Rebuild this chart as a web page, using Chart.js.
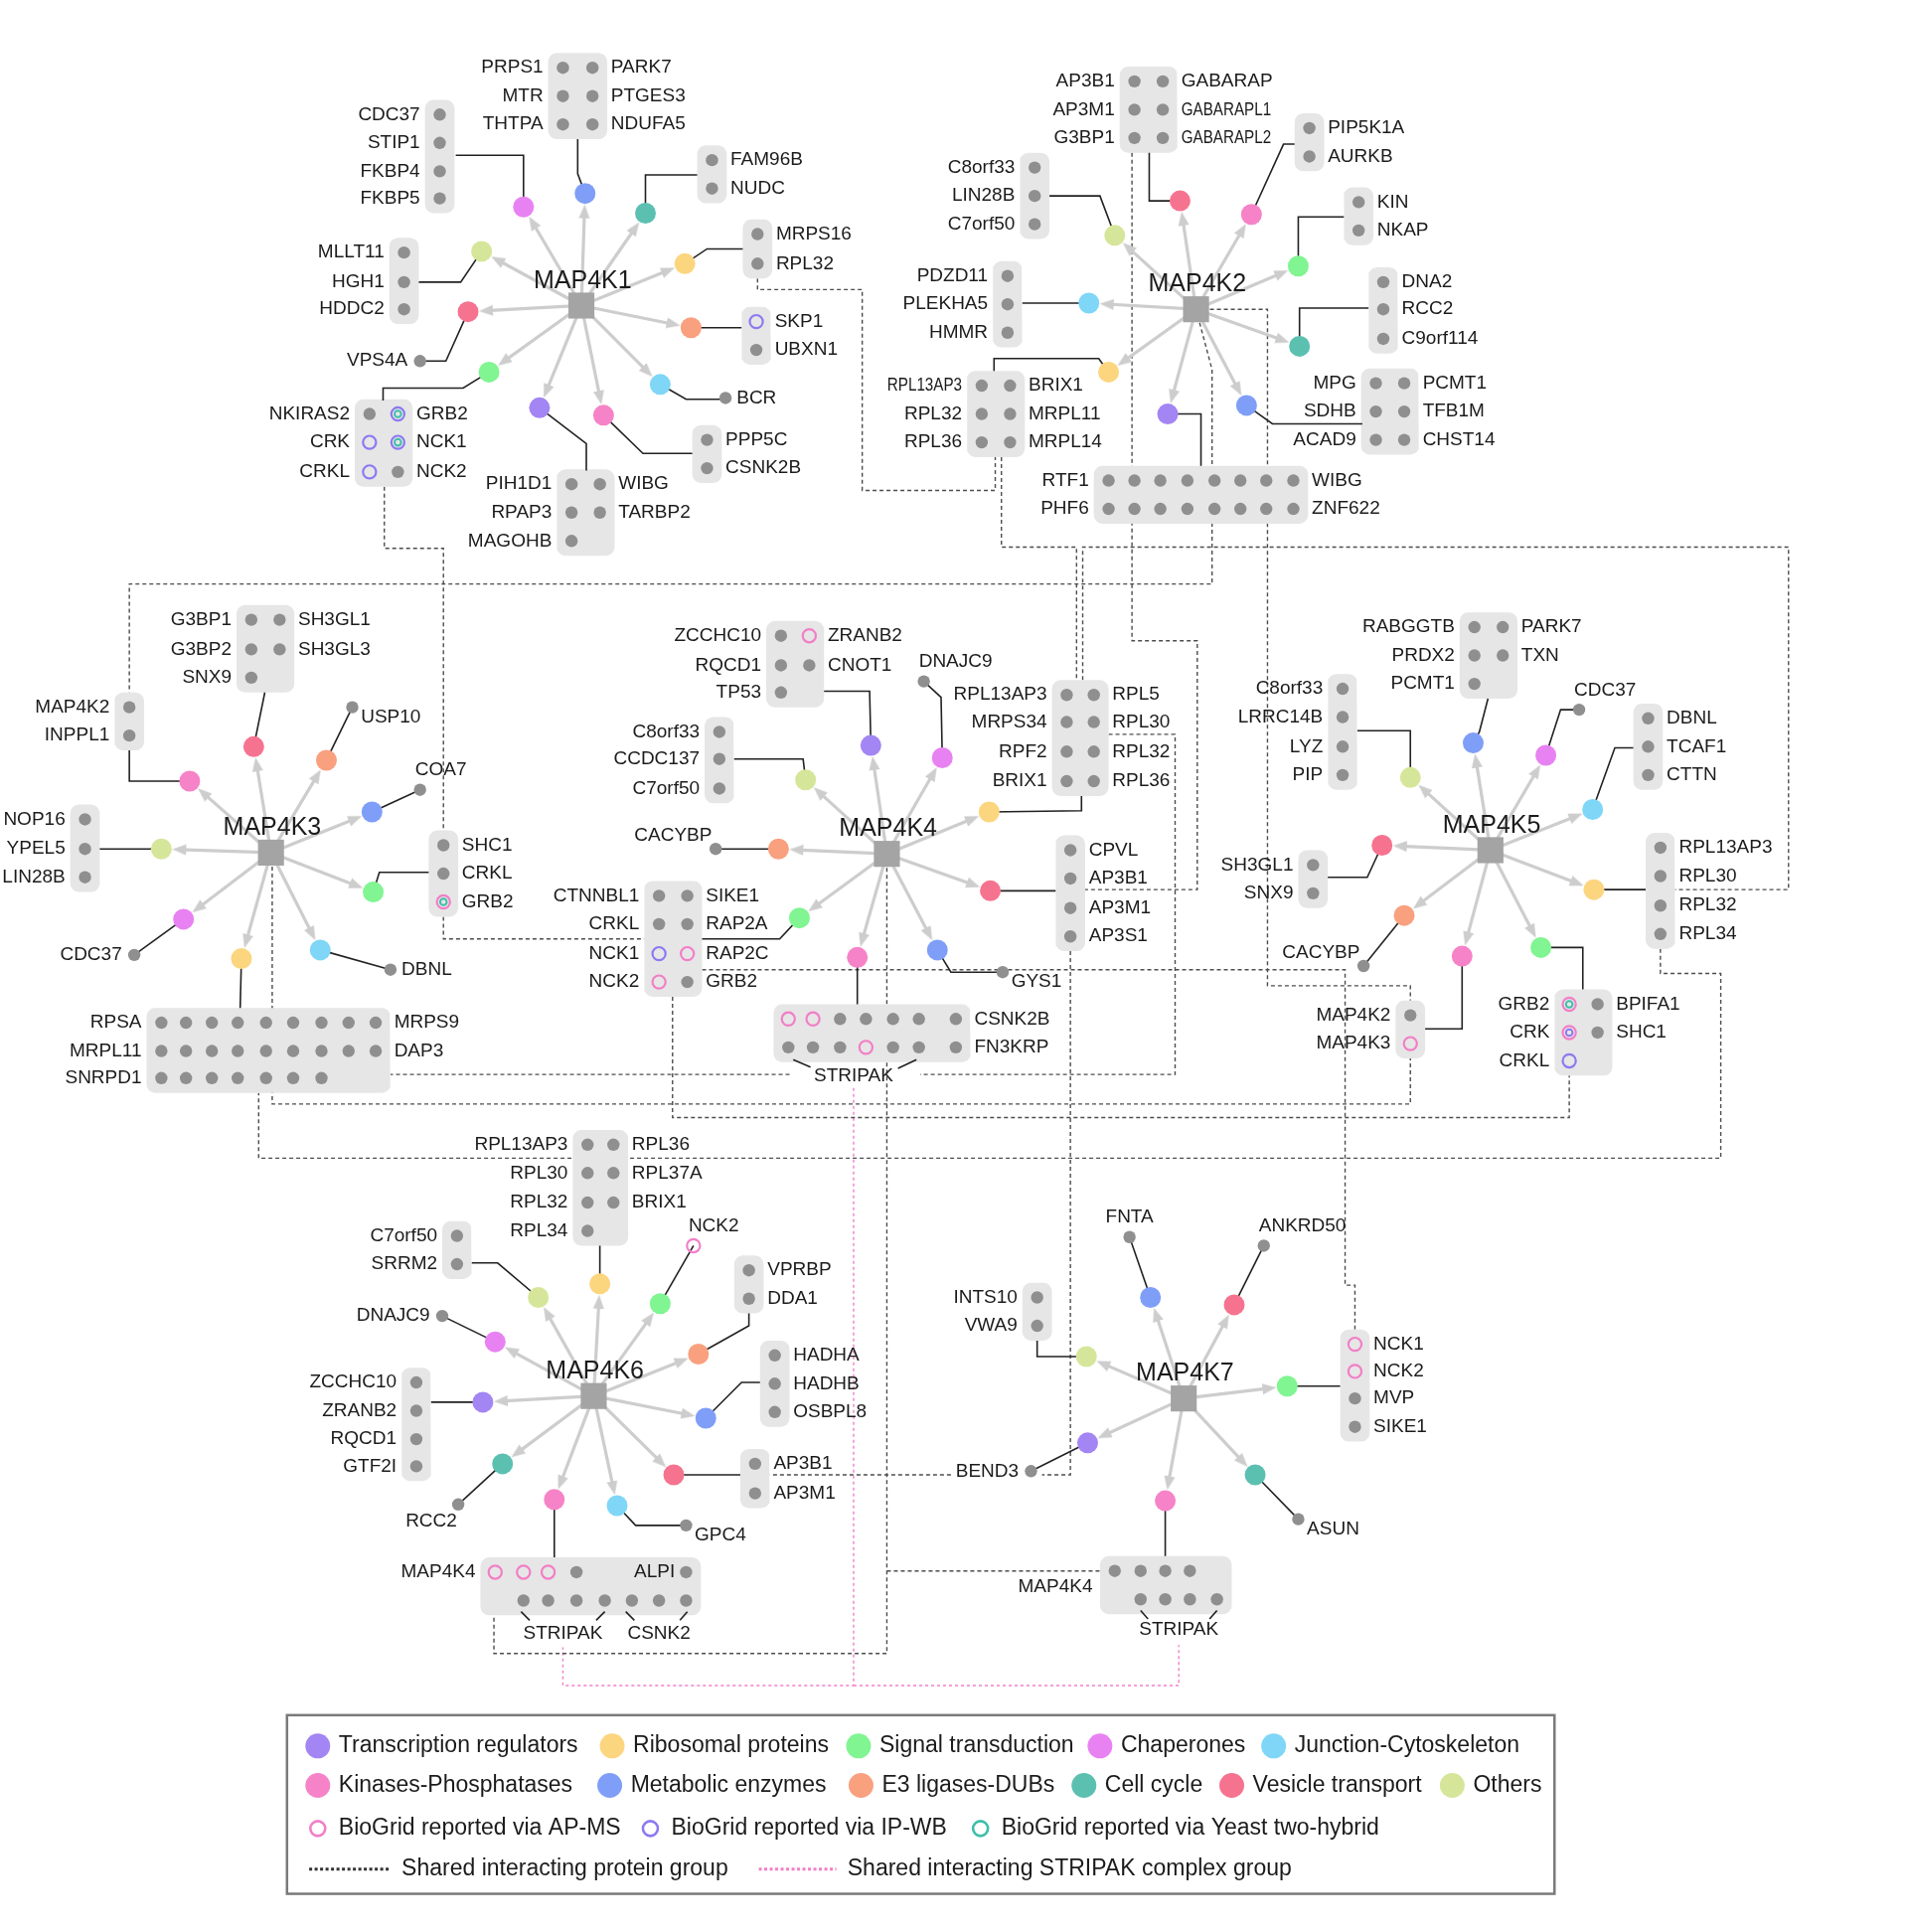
<!DOCTYPE html>
<html lang="en">
<head>
<meta charset="utf-8">
<title>MAP4K interaction network</title>
<script src="https://cdn.jsdelivr.net/npm/chart.js@4.4.1/dist/chart.umd.min.js"></script>
<style>
  html, body { margin: 0; padding: 0; background: #ffffff; }
  #netWrap { width: 1920px; height: 1944px; }
</style>
</head>
<body>
<div id="netWrap"><canvas id="netChart" width="1920" height="1944"></canvas></div>
<script>
// ---- data, in figure units (1549 x 1568) ----
const categories = ['Transcription regulators', 'Ribosomal proteins', 'Signal transduction', 'Chaperones',
  'Junction-Cytoskeleton', 'Kinases-Phosphatases', 'Metabolic enzymes', 'E3 ligases-DUBs',
  'Cell cycle', 'Vesicle transport', 'Others'];
const evidenceTypes = ['BioGrid reported via AP-MS', 'BioGrid reported via IP-WB', 'BioGrid reported via Yeast two-hybrid'];
const linkTypes = ['Shared interacting protein group', 'Shared interacting STRIPAK complex group'];

const hubNames = ['MAP4K1', 'MAP4K2', 'MAP4K3', 'MAP4K4', 'MAP4K5', 'MAP4K6', 'MAP4K7'];
const hubX = [472, 971, 220, 720, 1210, 482, 961];
const hubY = [248, 251, 692, 693, 690, 1133, 1135];

// [hub, x, y, category]
const satellites = [
  [0, 425, 168, 3], [0, 475, 157, 6], [0, 524, 173, 8], [0, 556, 214, 1], [0, 561, 266, 7], [0, 536, 312, 4],
  [0, 490, 337, 5], [0, 438, 331, 0], [0, 397, 302, 2], [0, 380, 253, 9], [0, 391, 204, 10],
  [1, 905, 191, 10], [1, 958, 163, 9], [1, 1016, 174, 5], [1, 1054, 216, 2], [1, 1055, 281, 8],
  [1, 1012, 329, 6], [1, 948, 336, 0], [1, 900, 302, 1], [1, 884, 246, 4],
  [2, 154, 634, 5], [2, 206, 606, 9], [2, 265, 617, 7], [2, 302, 659, 6], [2, 303, 724, 2],
  [2, 260, 771, 4], [2, 196, 778, 1], [2, 149, 746, 3], [2, 131, 689, 10],
  [3, 654, 633, 10], [3, 707, 605, 0], [3, 765, 615, 3], [3, 803, 659, 1], [3, 804, 723, 9],
  [3, 761, 771, 6], [3, 696, 777, 5], [3, 649, 745, 2], [3, 632, 689, 7],
  [4, 1145, 631, 10], [4, 1196, 603, 6], [4, 1255, 613, 3], [4, 1293, 657, 4], [4, 1294, 722, 1],
  [4, 1251, 769, 2], [4, 1187, 776, 5], [4, 1140, 743, 7], [4, 1122, 686, 9],
  [5, 437, 1053, 10], [5, 487, 1042, 1], [5, 536, 1058, 2], [5, 567, 1099, 7], [5, 573, 1151, 6],
  [5, 547, 1197, 9], [5, 501, 1222, 4], [5, 450, 1217, 5], [5, 408, 1188, 8], [5, 392, 1138, 0], [5, 402, 1089, 3],
  [6, 934, 1053, 6], [6, 1002, 1059, 9], [6, 1045, 1125, 2], [6, 1019, 1197, 8], [6, 946, 1218, 5],
  [6, 883, 1171, 0], [6, 882, 1101, 10]
];

// protein groups: column x, row y, cell marks per row (o gray, p AP-MS, v IP-WB, a IP-WB+Y2H, b AP-MS+Y2H, c AP-MS+IP-WB)
const groupCols = [
  [357], [457, 481], [578], [615], [614], [574], [464, 487], [300, 323], [328],
  [840], [921, 944], [1063], [1103], [1123], [1117, 1140], [900, 921, 942, 964, 986, 1007, 1028, 1050], [797, 820], [818],
  [105], [204, 227], [360], [69], [131, 151, 172, 193, 216, 238, 261, 283, 305],
  [584], [634, 657], [866, 888], [869], [535, 558], [640, 660, 682, 703, 725, 746, 776],
  [1090], [1197, 1220], [1338], [1348], [1274, 1297], [1145], [1066],
  [371], [477, 498], [608], [629], [613], [338], [402, 425, 445, 468, 491, 513, 535, 557],
  [842], [1100], [905, 926, 946, 966, 988]
];
const groupRows = [
  [93, 116, 139, 161], [55, 78, 101], [130, 153], [190, 214], [261, 284], [357, 380], [393, 416, 439], [336, 359, 383], [205, 229, 251],
  [136, 159, 182], [66, 89, 112], [104, 127], [164, 187], [229, 251, 275], [311, 334, 357], [390, 413], [313, 336, 359], [224, 247, 270],
  [574, 597], [503, 527, 550], [686, 709, 732], [665, 689, 712], [830, 853, 875],
  [594, 616, 640], [516, 540, 562], [564, 586, 610, 634], [690, 713, 737, 760], [727, 750, 774, 797], [827, 850],
  [559, 582, 606, 629], [509, 532, 555], [583, 606, 629], [688, 711, 735, 758], [815, 838, 861], [824, 847], [702, 725],
  [1003, 1026], [929, 952, 976, 999], [1031, 1054], [1100, 1123, 1146], [1188, 1212], [1122, 1145, 1168, 1190], [1276, 1299],
  [1053, 1076], [1091, 1113, 1135, 1158], [1275, 1298]
];
const groupCells = [
  ['o', 'o', 'o', 'o'], ['oo', 'oo', 'oo'], ['o', 'o'], ['o', 'o'], ['v', 'o'], ['o', 'o'], ['oo', 'oo', 'o.'], ['oa', 'va', 'vo'], ['o', 'o', 'o'],
  ['o', 'o', 'o'], ['oo', 'oo', 'oo'], ['o', 'o'], ['o', 'o'], ['o', 'o', 'o'], ['oo', 'oo', 'oo'], ['oooooooo', 'oooooooo'], ['oo', 'oo', 'oo'], ['o', 'o', 'o'],
  ['o', 'o'], ['oo', 'oo', 'o.'], ['o', 'o', 'b'], ['o', 'o', 'o'], ['ooooooooo', 'ooooooooo', 'ooooooo..'],
  ['o', 'o', 'o'], ['op', 'oo', 'o.'], ['oo', 'oo', 'oo', 'oo'], ['o', 'o', 'o', 'o'], ['oo', 'oo', 'vp', 'po'], ['ppooooo', 'ooopooo'],
  ['o', 'o', 'o', 'o'], ['oo', 'oo', 'o.'], ['o', 'o', 'o'], ['o', 'o', 'o', 'o'], ['bo', 'co', 'v.'], ['o', 'p'], ['o', 'o'],
  ['o', 'o'], ['oo', 'oo', 'oo', 'o.'], ['o', 'o'], ['o', 'o', 'o'], ['o', 'o'], ['o', 'o', 'o', 'o'], ['pppo...o', '.ooooooo'],
  ['o', 'o'], ['p', 'p', 'o', 'o'], ['oooo.', '.oooo']
];
const groupLeft = [
  ['CDC37', 'STIP1', 'FKBP4', 'FKBP5'], ['PRPS1', 'MTR', 'THTPA'], [], [], [], [], ['PIH1D1', 'RPAP3', 'MAGOHB'], ['NKIRAS2', 'CRK', 'CRKL'], ['MLLT11', 'HGH1', 'HDDC2'],
  ['C8orf33', 'LIN28B', 'C7orf50'], ['AP3B1', 'AP3M1', 'G3BP1'], [], [], [], ['MPG', 'SDHB', 'ACAD9'], ['RTF1', 'PHF6'], ['RPL13AP3', 'RPL32', 'RPL36'], ['PDZD11', 'PLEKHA5', 'HMMR'],
  ['MAP4K2', 'INPPL1'], ['G3BP1', 'G3BP2', 'SNX9'], [], ['NOP16', 'YPEL5', 'LIN28B'], ['RPSA', 'MRPL11', 'SNRPD1'],
  ['C8orf33', 'CCDC137', 'C7orf50'], ['ZCCHC10', 'RQCD1', 'TP53'], ['RPL13AP3', 'MRPS34', 'RPF2', 'BRIX1'], [], ['CTNNBL1', 'CRKL', 'NCK1', 'NCK2'], [],
  ['C8orf33', 'LRRC14B', 'LYZ', 'PIP'], ['RABGGTB', 'PRDX2', 'PCMT1'], [], [], ['GRB2', 'CRK', 'CRKL'], ['MAP4K2', 'MAP4K3'], ['SH3GL1', 'SNX9'],
  ['C7orf50', 'SRRM2'], ['RPL13AP3', 'RPL30', 'RPL32', 'RPL34'], [], [], [], ['ZCCHC10', 'ZRANB2', 'RQCD1', 'GTF2I'], ['MAP4K4'],
  ['INTS10', 'VWA9'], [], []
];
const groupRight = [
  [], ['PARK7', 'PTGES3', 'NDUFA5'], ['FAM96B', 'NUDC'], ['MRPS16', 'RPL32'], ['SKP1', 'UBXN1'], ['PPP5C', 'CSNK2B'], ['WIBG', 'TARBP2'], ['GRB2', 'NCK1', 'NCK2'], [],
  [], ['GABARAP', 'GABARAPL1', 'GABARAPL2'], ['PIP5K1A', 'AURKB'], ['KIN', 'NKAP'], ['DNA2', 'RCC2', 'C9orf114'], ['PCMT1', 'TFB1M', 'CHST14'], ['WIBG', 'ZNF622'], ['BRIX1', 'MRPL11', 'MRPL14'], [],
  [], ['SH3GL1', 'SH3GL3'], ['SHC1', 'CRKL', 'GRB2'], [], ['MRPS9', 'DAP3'],
  [], ['ZRANB2', 'CNOT1'], ['RPL5', 'RPL30', 'RPL32', 'RPL36'], ['CPVL', 'AP3B1', 'AP3M1', 'AP3S1'], ['SIKE1', 'RAP2A', 'RAP2C', 'GRB2'], ['CSNK2B', 'FN3KRP'],
  [], ['PARK7', 'TXN'], ['DBNL', 'TCAF1', 'CTTN'], ['RPL13AP3', 'RPL30', 'RPL32', 'RPL34'], ['BPIFA1', 'SHC1'], [], [],
  [], ['RPL36', 'RPL37A', 'BRIX1'], ['VPRBP', 'DDA1'], ['HADHA', 'HADHB', 'OSBPL8'], ['AP3B1', 'AP3M1'], [], [],
  [], ['NCK1', 'NCK2', 'MVP', 'SIKE1'], []
];
const narrowLabels = ['10:GABARAPL1', '10:GABARAPL2', '16:RPL13AP3'];

// single interactors: [x, y, name, label side, mark]
const soloDots = [
  [341, 293, 'VPS4A', 'l', 'o'], [589, 323, 'BCR', 'r', 'o'],
  [286, 574, 'USP10', 'br', 'o'], [341, 641, 'COA7', 'tr', 'o'], [317, 787, 'DBNL', 'r', 'o'], [109, 775, 'CDC37', 'l', 'o'],
  [750, 553, 'DNAJC9', 'tr', 'o'], [581, 689, 'CACYBP', 'tl', 'o'], [814, 789, 'GYS1', 'br', 'o'],
  [1282, 576, 'CDC37', 'tr', 'o'], [1107, 784, 'CACYBP', 'tl', 'o'],
  [563, 1011, 'NCK2', 'tr', 'p'], [359, 1068, 'DNAJC9', 'l', 'o'], [372, 1221, 'RCC2', 'bl', 'o'], [557, 1238, 'GPC4', 'br', 'o'],
  [917, 1004, 'FNTA', 't', 'o'], [1026, 1011, 'ANKRD50', 'tr', 'o'], [1054, 1233, 'ASUN', 'br', 'o'], [837, 1194, 'BEND3', 'l', 'o']
];
// complex names and extra tags: [text, x, y, align]
const notes = [
  ['STRIPAK', 693, 873, 'center'], ['STRIPAK', 457, 1326, 'center'], ['CSNK2', 535, 1326, 'center'],
  ['STRIPAK', 957, 1323, 'center'], ['MAP4K4', 887, 1288, 'right'], ['ALPI', 548, 1276, 'right']
];

// satellite -> group links (solid), plus the small bracket ticks under complex names
const connectorPaths = [
  [[425, 168], [425, 126], [370, 126]], [[475, 157], [469, 141], [469, 113]], [[524, 173], [524, 142], [566, 142]],
  [[556, 214], [574, 202], [603, 202]], [[561, 266], [602, 266]], [[536, 312], [557, 324], [589, 324]],
  [[490, 337], [522, 368], [562, 368]], [[438, 331], [476, 360], [476, 382]], [[397, 302], [376, 315], [311, 315], [311, 325]],
  [[380, 253], [362, 293], [341, 293]], [[391, 204], [374, 229], [340, 229]],
  [[905, 191], [893, 159], [852, 159]], [[958, 163], [933, 163], [933, 124]], [[1016, 174], [1042, 117], [1051, 117]],
  [[1054, 216], [1054, 176], [1091, 176]], [[1055, 281], [1055, 250], [1111, 250]], [[1012, 329], [1033, 344], [1106, 344]],
  [[948, 336], [975, 336], [975, 378]], [[900, 302], [892, 291], [807, 291], [807, 301]], [[884, 246], [830, 246]],
  [[154, 634], [105, 634], [105, 609]], [[206, 606], [215, 562]], [[265, 617], [286, 574]], [[302, 659], [341, 641]],
  [[303, 724], [308, 708], [348, 708]], [[260, 771], [317, 787]], [[196, 778], [195, 818]], [[149, 746], [109, 775]], [[131, 689], [81, 689]],
  [[654, 633], [652, 616], [596, 616]], [[707, 605], [706, 561], [669, 561]], [[765, 615], [764, 566], [750, 553]],
  [[803, 659], [878, 658], [878, 646]], [[804, 723], [857, 723]], [[761, 771], [772, 789], [814, 789]],
  [[696, 777], [696, 815]], [[649, 745], [633, 762], [570, 762]], [[632, 689], [581, 689]],
  [[1145, 631], [1145, 593], [1102, 593]], [[1196, 603], [1201, 594], [1208, 567]], [[1255, 613], [1267, 576], [1282, 576]],
  [[1293, 657], [1311, 607], [1326, 607]], [[1294, 722], [1336, 722]], [[1251, 769], [1285, 769], [1285, 803]],
  [[1187, 776], [1187, 835], [1157, 835]], [[1140, 743], [1107, 784]], [[1122, 686], [1110, 712], [1078, 712]],
  [[437, 1053], [404, 1025], [383, 1025]], [[487, 1042], [487, 1011]], [[536, 1058], [563, 1011]],
  [[567, 1099], [608, 1076], [608, 1066]], [[573, 1151], [602, 1122], [617, 1122]], [[547, 1197], [601, 1197]],
  [[501, 1222], [516, 1238], [557, 1238]], [[450, 1217], [450, 1264]], [[408, 1188], [372, 1221]],
  [[392, 1138], [350, 1138]], [[402, 1089], [359, 1068]],
  [[934, 1053], [917, 1004]], [[1002, 1059], [1026, 1011]], [[1045, 1125], [1088, 1125]], [[1019, 1197], [1054, 1233]],
  [[946, 1218], [946, 1263]], [[883, 1171], [837, 1194]], [[882, 1101], [842, 1101], [842, 1088]],
  [[644, 860], [658, 866]], [[744, 860], [729, 867]],
  [[423, 1308], [430, 1315]], [[491, 1308], [484, 1315]], [[508, 1308], [515, 1315]], [[558, 1308], [552, 1315]],
  [[926, 1307], [932, 1314]], [[988, 1307], [982, 1314]]
];

// shared interacting protein groups (dashed gray)
const sharedPaths = [
  [[312, 395], [312, 445], [360, 445], [360, 674]],
  [[360, 744], [360, 762], [523, 762]],
  [[615, 226], [615, 235], [700, 235], [700, 398], [808, 398], [808, 371]],
  [[813, 371], [813, 444], [874, 444], [874, 552]],
  [[879, 552], [879, 444], [1452, 444], [1452, 722], [1360, 722]],
  [[971, 251], [1029, 251], [1029, 800], [1145, 800], [1145, 812]],
  [[971, 251], [984, 300], [984, 474], [105, 474], [105, 562]],
  [[919, 124], [919, 520], [972, 520], [972, 722], [881, 722]],
  [[869, 772], [869, 1197], [846, 1197]],
  [[772, 1197], [625, 1197]],
  [[900, 596], [954, 596], [954, 872], [747, 872]],
  [[641, 872], [317, 872]],
  [[221, 692], [221, 896], [1145, 896], [1145, 859]],
  [[1348, 770], [1348, 790], [1397, 790], [1397, 940], [210, 940], [210, 887]],
  [[546, 809], [546, 907], [1274, 907], [1274, 873]],
  [[570, 787], [1092, 787], [1092, 1043], [1100, 1043], [1100, 1079]],
  [[720, 693], [720, 1342], [401, 1342], [401, 1282]],
  [[720, 1275], [893, 1275]]
];
// shared STRIPAK complex (dashed pink)
const stripakPaths = [
  [[693, 883], [693, 1368], [457, 1368], [457, 1337]],
  [[693, 1368], [957, 1368], [957, 1335]]
];

// ---- drawing ----
const canvas = document.getElementById('netChart');
const unit = canvas.width / 1549;
const palette = ['#a385f4', '#fcd57f', '#80f592', '#e882f2', '#7fd6f7', '#f683c7', '#7f9ef7', '#f9a07f', '#5cc0b1', '#f6738f', '#d5e69a'];
const ringColor = { p: '#f27fc7', v: '#8e78f2', t: '#3dbfa8' };
const ringParts = { p: ['p'], v: ['v'], a: ['v', 't'], b: ['p', 't'], c: ['p', 'v'] };
const SAT_R = 10.5, DOT_R = 6.2, HUB_R = 18.5, ARROW_W = 11, ARROW_H = 14;
const BOX_PAD = 12, BOX_ROUND = 7;
const LABEL_FONT = '19px "Liberation Sans", Arial, sans-serif';
const HUB_FONT = '25px "Liberation Sans", Arial, sans-serif';
const LEGEND_FONT = '23px "Liberation Sans", Arial, sans-serif';
const TEXT_COLOR = '#1b1b1b';
const EDGE_COLOR = '#cdcdcd';

const pt = ([x, y]) => ({ x, y });
const datasets = [];

sharedPaths.forEach(p => datasets.push({
  type: 'line', data: p.map(pt), borderColor: '#4d4d4d', borderWidth: 1.4, borderDash: [4, 3],
  pointRadius: 0, fill: false, order: 100
}));
stripakPaths.forEach(p => datasets.push({
  type: 'line', data: p.map(pt), borderColor: '#f27fc7', borderWidth: 1.4, borderDash: [3, 3],
  pointRadius: 0, fill: false, order: 100
}));

function boxOutline(x0, y0, x1, y1, r) {
  const out = [];
  [[x1 - r, y0 + r, -90], [x1 - r, y1 - r, 0], [x0 + r, y1 - r, 90], [x0 + r, y0 + r, 180]].forEach(([cx, cy, a0]) => {
    for (let k = 0; k <= 4; k++) {
      const a = (a0 + k * 22.5) * Math.PI / 180;
      out.push({ x: cx + r * Math.cos(a), y: cy + r * Math.sin(a) });
    }
  });
  return out;
}

const grayDots = [];
const outerRings = { p: [], v: [] };
const innerRings = { t: [], v: [] };
function addMark(code, x, y) {
  if (code === 'o') { grayDots.push({ x, y }); return; }
  const parts = ringParts[code];
  outerRings[parts[0]].push({ x, y });
  if (parts[1]) innerRings[parts[1]].push({ x, y });
}

groupCols.forEach((cols, g) => {
  const rows = groupRows[g];
  datasets.push({
    type: 'line',
    data: boxOutline(Math.min(...cols) - BOX_PAD, Math.min(...rows) - BOX_PAD, Math.max(...cols) + BOX_PAD, Math.max(...rows) + BOX_PAD, BOX_ROUND),
    borderWidth: 0, backgroundColor: '#e6e6e6', fill: 'shape', pointRadius: 0, order: 90
  });
  rows.forEach((y, r) => {
    [...groupCells[g][r]].forEach((c, k) => { if (c !== '.') addMark(c, cols[k], y); });
  });
});
soloDots.forEach(([x, y, , , m]) => addMark(m, x, y));

connectorPaths.forEach(p => datasets.push({
  type: 'line', data: p.map(pt), borderColor: '#222222', borderWidth: 1.6, pointRadius: 0, fill: false, order: 80
}));

// hub -> satellite arrows
const arrowImg = document.createElement('canvas');
arrowImg.width = ARROW_W; arrowImg.height = ARROW_H;
const actx = arrowImg.getContext('2d');
actx.fillStyle = EDGE_COLOR;
actx.beginPath(); actx.moveTo(ARROW_W / 2, 0); actx.lineTo(ARROW_W, ARROW_H); actx.lineTo(0, ARROW_H); actx.closePath(); actx.fill();

const arrowPts = [], arrowRot = [];
satellites.forEach(([h, sx, sy]) => {
  const hx = hubX[h], hy = hubY[h];
  const dx = sx - hx, dy = sy - hy, len = Math.hypot(dx, dy);
  const back = (SAT_R + ARROW_H / 2 + 0.5) / unit;
  const ax = sx - dx / len * back, ay = sy - dy / len * back;
  datasets.push({
    type: 'line', data: [{ x: hx, y: hy }, { x: ax, y: ay }], borderColor: EDGE_COLOR, borderWidth: 3.2,
    pointRadius: 0, fill: false, order: 70
  });
  arrowPts.push({ x: ax, y: ay });
  arrowRot.push(Math.atan2(dx, -dy) * 180 / Math.PI);
});
datasets.push({
  type: 'scatter', data: arrowPts, pointStyle: arrowImg, pointRadius: 7, pointRotation: arrowRot, order: 60
});

datasets.push({
  type: 'scatter', data: satellites.map(s => ({ x: s[1], y: s[2] })), pointRadius: SAT_R,
  pointBackgroundColor: satellites.map(s => palette[s[3]]), pointBorderWidth: 0, order: 50
});
datasets.push({
  type: 'scatter', data: grayDots, pointRadius: DOT_R, pointBackgroundColor: '#8f8f8f', pointBorderWidth: 0, order: 40
});
Object.keys(outerRings).forEach(c => datasets.push({
  type: 'scatter', data: outerRings[c], pointRadius: 6.6, pointBorderWidth: 2.2,
  pointBorderColor: ringColor[c], pointBackgroundColor: 'rgba(0,0,0,0)', order: 40
}));
Object.keys(innerRings).forEach(c => datasets.push({
  type: 'scatter', data: innerRings[c], pointRadius: 3.3, pointBorderWidth: 2,
  pointBorderColor: ringColor[c], pointBackgroundColor: 'rgba(0,0,0,0)', order: 39
}));
datasets.push({
  type: 'scatter', data: hubX.map((x, i) => ({ x, y: hubY[i] })), pointStyle: 'rect', pointRadius: HUB_R,
  pointBackgroundColor: '#a4a4a4', pointBorderWidth: 0, order: 30
});

const soloOffsets = {
  l: [-10, 0, 'right'], r: [9, 0, 'left'], t: [0, -16, 'center'], tr: [-4, -16, 'left'],
  tl: [-3, -11, 'right'], bl: [-1, 14, 'right'], br: [7, 8, 'left']
};
const legendSwatches = [
  [258, 1417, 0], [497, 1417, 1], [697, 1417, 2], [893, 1417, 3], [1034, 1417, 4],
  [258, 1449, 5], [495, 1449, 6], [699, 1449, 7], [880, 1449, 8], [1000, 1449, 9], [1179, 1449, 10]
];
const legendRings = [[258, 'p'], [528, 'v'], [796, 't']];
const legendLines = [[251, 317, '#333333'], [616, 679, '#f27fc7']];

const netText = {
  id: 'netText',
  afterDatasetsDraw(chart) {
    const { ctx } = chart;
    const X = v => chart.scales.x.getPixelForValue(v);
    const Y = v => chart.scales.y.getPixelForValue(v);
    const put = (str, x, y, align, squeeze) => {
      if (!str) return;
      ctx.textAlign = align;
      if (squeeze) ctx.fillText(str, X(x), Y(y), ctx.measureText(str).width * squeeze);
      else ctx.fillText(str, X(x), Y(y));
    };
    ctx.save();
    ctx.fillStyle = TEXT_COLOR;
    ctx.textBaseline = 'middle';
    ctx.font = LABEL_FONT;
    groupCols.forEach((cols, g) => {
      groupRows[g].forEach((y, r) => {
        const cells = groupCells[g][r];
        const first = cells.search(/[^.]/);
        let last = cells.length - 1;
        while (cells[last] === '.') last--;
        const lt = groupLeft[g][r], rt = groupRight[g][r];
        put(lt, cols[first] - 16, y, 'right', narrowLabels.includes(g + ':' + lt) ? 0.8 : 0);
        put(rt, cols[last] + 15, y, 'left', narrowLabels.includes(g + ':' + rt) ? 0.8 : 0);
      });
    });
    soloDots.forEach(([x, y, name, side]) => {
      const [dx, dy, al] = soloOffsets[side];
      put(name, x + dx, y + dy, al);
    });
    notes.forEach(([name, x, y, al]) => put(name, x, y, al));
    ctx.font = HUB_FONT;
    hubNames.forEach((n, i) => put(n, hubX[i] + 1, hubY[i] - 20, 'center'));

    // legend
    ctx.lineWidth = 2.5;
    ctx.strokeStyle = '#7a7a7a';
    ctx.strokeRect(X(233), Y(1392), X(1262) - X(233), Y(1537) - Y(1392));
    ctx.font = LEGEND_FONT;
    legendSwatches.forEach(([x, y, c]) => {
      ctx.fillStyle = palette[c];
      ctx.beginPath(); ctx.arc(X(x), Y(y), 12.5, 0, Math.PI * 2); ctx.fill();
      ctx.fillStyle = TEXT_COLOR;
      put(categories[c], x + 17, y, 'left');
    });
    legendRings.forEach(([x, c], i) => {
      ctx.strokeStyle = ringColor[c]; ctx.lineWidth = 2.6;
      ctx.beginPath(); ctx.arc(X(x), Y(1484), 7.5, 0, Math.PI * 2); ctx.stroke();
      put(evidenceTypes[i], x + 17, 1484, 'left');
    });
    legendLines.forEach(([x0, x1, col], i) => {
      ctx.strokeStyle = col; ctx.lineWidth = 3; ctx.setLineDash([3, 2.5]);
      ctx.beginPath(); ctx.moveTo(X(x0), Y(1517)); ctx.lineTo(X(x1), Y(1517)); ctx.stroke();
      ctx.setLineDash([]);
      put(linkTypes[i], x1 + 9, 1517, 'left');
    });
    ctx.restore();
  }
};

new Chart(canvas, {
  type: 'scatter',
  data: { datasets },
  options: {
    responsive: false,
    animation: false,
    devicePixelRatio: 1,
    events: [],
    layout: { padding: 0, autoPadding: false },
    scales: {
      x: { type: 'linear', min: 0, max: 1549, display: false },
      y: { type: 'linear', min: 0, max: 1568, reverse: true, display: false }
    },
    plugins: { legend: { display: false }, tooltip: { enabled: false } }
  },
  plugins: [netText]
});
</script>
</body>
</html>
